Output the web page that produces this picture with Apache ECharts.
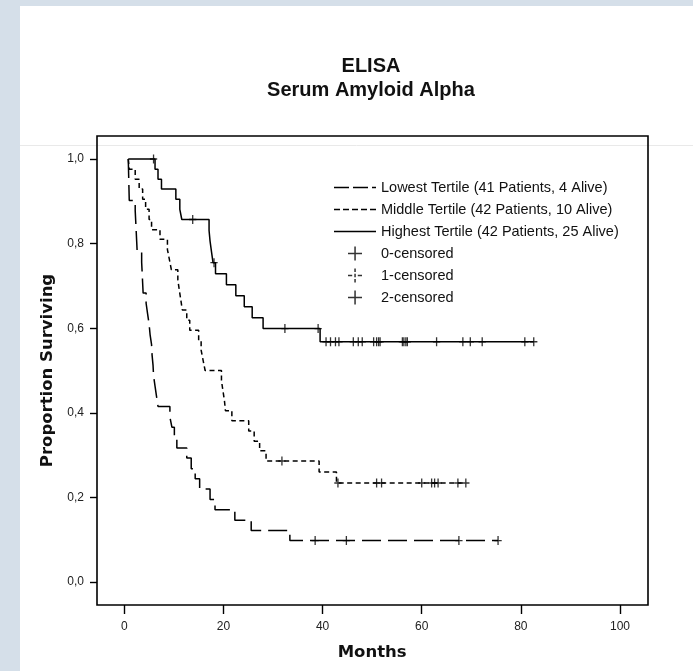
<!DOCTYPE html>
<html>
<head>
<meta charset="utf-8">
<script src="https://cdn.jsdelivr.net/npm/echarts@6/dist/echarts.min.js"></script>
<style>
  html, body { margin: 0; padding: 0; background: #d5dfe9; }
  #sheet { position: absolute; left: 20px; top: 6px; right: 0; bottom: 0; background: #ffffff; }
  #chart { position: absolute; left: 0; top: 0; width: 693px; height: 671px; }
</style>
</head>
<body>
<div id="sheet"></div>
<div id="chart"></div>
<script>
// Kaplan–Meier estimates: [month, proportion surviving after the event]
const startMonth = 0.8;
const lowestSteps = [
  [1.0, 0.902], [2.2, 0.878], [2.3, 0.854], [2.4, 0.829], [2.5, 0.805], [2.6, 0.780],
  [3.5, 0.756], [3.6, 0.732], [3.7, 0.707], [3.8, 0.683], [4.4, 0.659], [4.7, 0.634],
  [5.0, 0.610], [5.2, 0.585], [5.5, 0.561], [5.6, 0.537], [5.8, 0.512], [5.9, 0.488],
  [6.2, 0.463], [6.5, 0.439], [6.8, 0.415], [9.2, 0.390], [9.6, 0.366], [10.1, 0.341],
  [10.6, 0.317], [12.6, 0.293], [13.5, 0.268], [14.3, 0.244], [15.2, 0.220], [17.3, 0.195],
  [18.3, 0.171], [22.3, 0.146], [25.6, 0.122], [33.4, 0.098]
];
const middleSteps = [
  [1.0, 0.976], [2.2, 0.952], [3.0, 0.929], [3.7, 0.905], [4.3, 0.881], [5.0, 0.857],
  [5.5, 0.833], [7.2, 0.810], [8.7, 0.786], [9.1, 0.762], [9.5, 0.738], [10.8, 0.714],
  [11.1, 0.690], [11.4, 0.667], [11.7, 0.643], [12.6, 0.619], [13.2, 0.595], [15.0, 0.571],
  [15.5, 0.548], [15.9, 0.524], [16.3, 0.500], [19.6, 0.476], [19.9, 0.452], [20.2, 0.429],
  [20.4, 0.405], [21.7, 0.381], [25.1, 0.357], [26.2, 0.333], [27.3, 0.310], [28.6, 0.286],
  [39.3, 0.260], [42.8, 0.234]
];
const highestSteps = [
  [6.2, 0.976], [6.8, 0.952], [7.5, 0.929], [10.4, 0.905], [11.2, 0.881], [11.6, 0.857],
  [17.1, 0.831], [17.3, 0.806], [17.6, 0.780], [17.9, 0.755], [18.4, 0.729], [20.6, 0.703],
  [22.5, 0.677], [24.2, 0.651], [25.8, 0.625], [28.0, 0.599], [39.5, 0.568]
];

// Months at which patients were censored (still alive at last follow-up)
const lowestCensored = [38.5, 44.8, 67.5, 75.4];
const middleCensored = [31.8, 43.1, 50.9, 51.9, 60.0, 62.0, 62.6, 63.3, 67.3, 68.9];
const highestCensored = [5.9, 13.8, 18.1, 32.4, 39.1, 40.7, 41.6, 42.6, 43.3, 46.2, 47.2, 48.0,
  50.3, 50.9, 51.3, 51.6, 56.1, 56.4, 56.8, 57.1, 63.0, 68.3, 69.8, 72.2, 80.8, 82.6];

const groupNames = [
  'Lowest Tertile (41 Patients, 4 Alive)',
  'Middle Tertile (42 Patients, 10 Alive)',
  'Highest Tertile (42 Patients, 25 Alive)'
];
const censorNames = ['0-censored', '1-censored', '2-censored'];

const xTicks = [0, 20, 40, 60, 80, 100];
const yTicks = [0, 0.2, 0.4, 0.6, 0.8, 1.0];

// step curve from start through each event to the last follow-up
function curve(steps, lastMonth) {
  const pts = [[startMonth, 1]].concat(steps);
  pts.push([lastMonth, steps[steps.length - 1][1]]);
  return pts;
}
function survivalAt(steps, t) {
  let v = 1;
  for (const [m, s] of steps) { if (m <= t) v = s; }
  return v;
}
function marks(steps, times) {
  return times.map(t => [t, survivalAt(steps, t)]);
}

const crossPath = 'path://M3,0h1.3v9h-1.3z M0,3.85h7.3v1.3h-7.3z';
const crossIcon = 'path://M5.4,0h1.3v12h-1.3z M0,5.4h12v1.3h-12z';
const dashCrossIcon = 'path://M0,5.4h3.6v1.3h-3.6z M8.4,5.4h3.6v1.3h-3.6z M5.4,0h1.3v3h-1.3z M5.4,4.6h1.3v2.8h-1.3z M5.4,9h1.3v3h-1.3z';
const longDashIcon = 'path://M0,0h15v1.5h-15z M19,0h15v1.5h-15z M38,0h4v1.5h-4z';
const shortDashIcon = 'path://M0,0h6v1.5h-6z M9,0h6v1.5h-6z M18,0h6v1.5h-6z M27,0h6v1.5h-6z M36,0h6v1.5h-6z';
const solidIcon = 'path://M0,0h42v1.5h-42z';

const ink = '#000000';
const lineBase = { type: 'line', step: 'end', symbol: 'none', clip: false, silent: true, z: 3 };
const markBase = { type: 'scatter', symbol: crossPath, symbolSize: [7.3, 9], clip: false, silent: true, z: 4,
  itemStyle: { color: ink } };

const chart = echarts.init(document.getElementById('chart'), null, { renderer: 'canvas' });
chart.setOption({
  animation: false,
  backgroundColor: 'transparent',
  title: {
    text: 'ELISA\nSerum Amyloid Alpha',
    left: 371, top: 54, textAlign: 'center', padding: 0,
    textStyle: { fontFamily: 'Liberation Sans, Arial, sans-serif', fontSize: 20, fontWeight: 'bold',
      color: '#111', lineHeight: 24 }
  },
  legend: {
    orient: 'vertical', left: 334, top: 180, padding: 0,
    itemWidth: 42, itemHeight: 14, itemGap: 7.0,
    textStyle: { fontFamily: 'Liberation Sans, Arial, sans-serif', fontSize: 14.5, color: '#111', lineHeight: 14 },
    itemStyle: { color: ink },
    selectedMode: false,
    data: [
      { name: groupNames[0], icon: longDashIcon },
      { name: groupNames[1], icon: shortDashIcon },
      { name: groupNames[2], icon: solidIcon },
      { name: censorNames[0], icon: crossIcon },
      { name: censorNames[1], icon: dashCrossIcon },
      { name: censorNames[2], icon: crossIcon }
    ]
  },
  grid: { left: 124.3, top: 159, width: 495.7, height: 423 },
  xAxis: {
    type: 'value', min: 0, max: 100, interval: 20, offset: 23,
    name: 'Months', nameLocation: 'middle', nameGap: 39,
    nameTextStyle: { fontFamily: 'DejaVu Sans, sans-serif', fontSize: 16.5, fontWeight: 'bold', color: '#111' },
    axisLine: { show: false, onZero: false },
    axisTick: { show: true, length: 9, lineStyle: { color: ink, width: 1.4 } },
    axisLabel: { margin: 16, fontFamily: 'Liberation Sans, Arial, sans-serif', fontSize: 12, color: '#222',
      formatter: v => xTicks.includes(v) ? String(v) : '' },
    splitLine: { show: false }
  },
  yAxis: {
    type: 'value', min: 0, max: 1, interval: 0.2, offset: 27.3,
    name: 'Proportion Surviving', nameLocation: 'middle', nameGap: 38,
    nameTextStyle: { fontFamily: 'DejaVu Sans, sans-serif', fontSize: 16.5, fontWeight: 'bold', color: '#111' },
    axisLine: { show: false, onZero: false },
    axisTick: { show: true, length: 7, lineStyle: { color: ink, width: 1.4 } },
    axisLabel: { margin: 13, fontFamily: 'Liberation Sans, Arial, sans-serif', fontSize: 12, color: '#222',
      formatter: v => v.toFixed(1).replace('.', ',') },
    splitLine: { show: false }
  },
  graphic: [
    { type: 'line', silent: true, z: -1,
      shape: { x1: 20, y1: 145.5, x2: 693, y2: 145.5 },
      style: { stroke: '#e9e9e9', lineWidth: 1 } },
    { type: 'rect', silent: true, z: 1,
      shape: { x: 97, y: 136, width: 551, height: 469 },
      style: { fill: null, stroke: ink, lineWidth: 1.6 } }
  ],
  series: [
    Object.assign({}, lineBase, { name: groupNames[0], data: curve(lowestSteps, lowestCensored[lowestCensored.length - 1]),
      lineStyle: { color: ink, width: 1.5, type: [19, 7] }, itemStyle: { color: ink } }),
    Object.assign({}, lineBase, { name: groupNames[1], data: curve(middleSteps, middleCensored[middleCensored.length - 1]),
      lineStyle: { color: ink, width: 1.5, type: [5, 3.5] }, itemStyle: { color: ink } }),
    Object.assign({}, lineBase, { name: groupNames[2], data: curve(highestSteps, highestCensored[highestCensored.length - 1]),
      lineStyle: { color: ink, width: 1.5, type: 'solid' }, itemStyle: { color: ink } }),
    Object.assign({}, markBase, { name: censorNames[0], data: marks(lowestSteps, lowestCensored) }),
    Object.assign({}, markBase, { name: censorNames[1], data: marks(middleSteps, middleCensored) }),
    Object.assign({}, markBase, { name: censorNames[2], data: marks(highestSteps, highestCensored) })
  ]
});
</script>
</body>
</html>
